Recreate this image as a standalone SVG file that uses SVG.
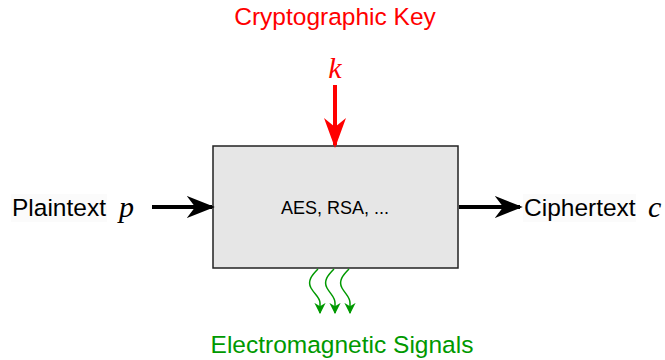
<svg xmlns="http://www.w3.org/2000/svg" width="665" height="360" viewBox="0 0 665 360">
<defs>
<style>
.lbl{font-family:"Liberation Sans",Arial,sans-serif;font-size:24.5px}
.math{font-family:"Liberation Serif","Times New Roman",serif;font-style:italic;font-size:30px}
.wave{fill:none;stroke:#009900;stroke-width:1.5}
</style>
<marker id="ab" viewBox="0 0 10 10" refX="9" refY="5" markerWidth="7" markerHeight="5.5" markerUnits="strokeWidth" orient="auto" preserveAspectRatio="none"><path d="M0,0 L10,5 L0,10 L3,5 Z" fill="#000"/></marker>
<marker id="ar" viewBox="0 0 10 10" refX="9" refY="5" markerWidth="7.5" markerHeight="5.5" markerUnits="strokeWidth" orient="auto" preserveAspectRatio="none"><path d="M0,0 L10,5 L0,10 L3,5 Z" fill="#ff0000"/></marker>
<marker id="ag" viewBox="0 0 10 10" refX="9" refY="5" markerWidth="7.5" markerHeight="7.5" markerUnits="strokeWidth" orient="auto"><path d="M0,0 L10,5 L0,10 L3,5 Z" fill="#009900"/></marker>
</defs>
<g id="cipher">
<rect x="213" y="146" width="245" height="122" fill="#e6e6e6" stroke="#222" stroke-width="1.5"/>
<text x="335" y="214" text-anchor="middle" font-family="Liberation Sans,Arial,sans-serif" font-size="18">AES, RSA, ...</text>
</g>
<g id="plaintext">
<rect x="11" y="194" width="96" height="28" fill="#fbfbfb"/>
<text class="lbl" x="12" y="216">Plaintext</text>
<text class="math" x="119" y="217">p</text>
</g>
<g id="ciphertext">
<rect x="523" y="194" width="113" height="28" fill="#fbfbfb"/>
<text class="lbl" x="524" y="216">Ciphertext</text>
<text class="math" x="648" y="217">c</text>
</g>
<g id="key">
<text class="lbl" x="335" y="25" text-anchor="middle" fill="#ff0000">Cryptographic Key</text>
<text class="math" x="335" y="78" text-anchor="middle" fill="#ff0000">k</text>
</g>
<g id="signals">
<text class="lbl" x="342" y="353" text-anchor="middle" fill="#009900">Electromagnetic Signals</text>
</g>
<g id="connectors">
<line x1="152" y1="207" x2="212" y2="207" stroke="#000" stroke-width="4" marker-end="url(#ab)"/>
<line x1="459" y1="207" x2="520" y2="207" stroke="#000" stroke-width="4" marker-end="url(#ab)"/>
<line x1="335" y1="85" x2="335" y2="145" stroke="#ff0000" stroke-width="4" marker-end="url(#ar)"/>
<path class="wave" d="M318,269 C312,275 307,281 311,288 C315,295 320,297 320,303 L320,313" marker-end="url(#ag)"/>
<path class="wave" d="M334,269 C328,275 323,281 327,288 C331,295 335,297 335,303 L335,313" marker-end="url(#ag)"/>
<path class="wave" d="M349,269 C343,275 338,281 342,288 C346,295 350,297 350,303 L350,313" marker-end="url(#ag)"/>
</g>
</svg>
